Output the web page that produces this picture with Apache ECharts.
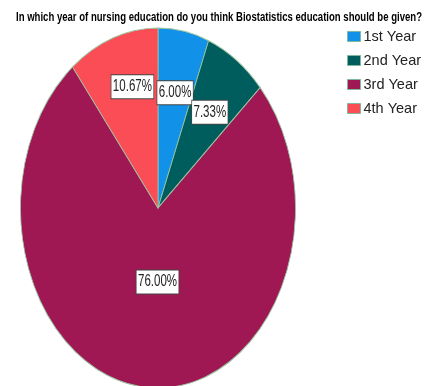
<!DOCTYPE html>
<html>
<head>
<meta charset="utf-8">
<script src="https://cdn.jsdelivr.net/npm/echarts@6/dist/echarts.min.js"></script>
<style>
  html, body { margin: 0; padding: 0; background: #fff; }
  #container { width: 425px; height: 386px; }
</style>
</head>
<body>
<div id="container"></div>
<script>
// data
var categories = ['1st Year', '2nd Year', '3rd Year', '4th Year'];
var percents = [6.00, 7.33, 76.00, 10.67];
var colors = ['#1192e8', '#005d5d', '#9f1853', '#fa4d56'];

var titleText = 'In which year of nursing education do you think Biostatistics education should be given?';

// ellipse geometry (the original pie is stretched vertically)
var cx = 158, cy = 208, rx = 137.5, ry = 180;
var edgeColor = '#9cc5a1';

// the original uses a condensed font, so squeeze Liberation Sans horizontally
var titleFont = 'bold 12px "Liberation Sans", Arial, sans-serif';
var labelFont = '16px "Liberation Sans", Arial, sans-serif';
var labelSqueeze = 0.72;

var total = percents.reduce(function (a, b) { return a + b; }, 0);
var starts = [];
var acc = 0;
percents.forEach(function (v) { starts.push(acc); acc += v; });

function textWidth(txt, font) {
  var ctx = document.createElement('canvas').getContext('2d');
  ctx.font = font;
  return ctx.measureText(txt).width;
}

// small nudges so boxes sit where the original put them
var labelNudge = { 2: [4, 2], 3: [4, -12] };

function renderSlice(idx) {
  return function (params, api) {
    var start = api.value(0), val = api.value(1);
    var a0 = -Math.PI / 2 + 2 * Math.PI * start / total;
    var a1 = a0 + 2 * Math.PI * val / total;
    var half = Math.PI * val / total;
    var f = Math.max(2 * Math.sin(half) / (3 * half), 0.39);
    var mid = 2 * Math.PI * (start + val / 2) / total;
    var lx = cx + Math.sin(mid) * f * rx;
    var ly = cy - Math.cos(mid) * f * ry + 2;
    var n = labelNudge[idx];
    if (n) { lx += n[0]; ly += n[1]; }
    return {
      type: 'group',
      children: [{
        type: 'sector',
        shape: { cx: cx, cy: cy, r0: 0, r: rx, startAngle: a0, endAngle: a1, clockwise: true },
        originX: cx,
        originY: cy,
        scaleY: ry / rx,
        style: { fill: api.visual('color'), stroke: edgeColor, lineWidth: 0.8 }
      }, {
        type: 'text',
        z2: 100,
        x: lx,
        y: ly,
        scaleX: labelSqueeze,
        style: {
          x: 0, y: 0,
          text: val.toFixed(2) + '%',
          align: 'center',
          verticalAlign: 'middle',
          font: labelFont,
          fill: '#222',
          backgroundColor: '#fff',
          borderColor: '#444',
          borderWidth: 1,
          padding: [4, 2, 3, 2]
        }
      }]
    };
  };
}

var titleScale = 406 / textWidth(titleText, titleFont);

var chart = echarts.init(document.getElementById('container'));
chart.setOption({
  animation: false,
  color: colors,
  graphic: [{
    type: 'text',
    x: 219,
    y: 18,
    scaleX: titleScale,
    style: {
      text: titleText,
      font: titleFont,
      fill: '#000',
      align: 'center',
      verticalAlign: 'middle'
    }
  }],
  legend: {
    data: categories,
    orient: 'vertical',
    left: 347,
    top: 29,
    padding: 0,
    itemWidth: 13,
    itemHeight: 10,
    itemGap: 9,
    icon: 'rect',
    itemStyle: { borderColor: '#7fb89a', borderWidth: 1 },
    textStyle: {
      fontFamily: '"Liberation Sans", Arial, sans-serif',
      fontSize: 14.5,
      color: '#222',
      padding: [0, 0, 0, -2]
    }
  },
  series: categories.map(function (name, i) {
    return {
      type: 'custom',
      name: name,
      coordinateSystem: 'none',
      renderItem: renderSlice(i),
      data: [[starts[i], percents[i]]]
    };
  })
});
</script>
</body>
</html>
